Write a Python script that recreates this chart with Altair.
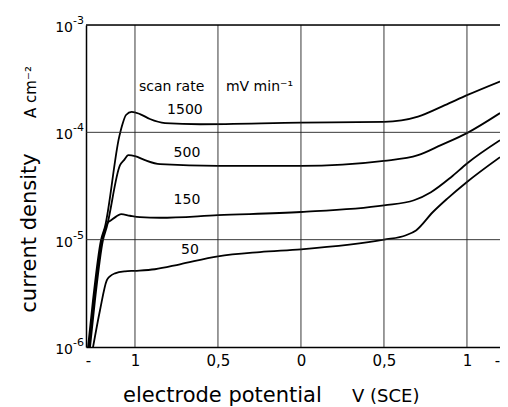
import altair as alt
import pandas as pd

FONT = "DejaVu Sans"

# ---- data (V vs SCE, current density A cm^-2) ----
v_1500 = [-1.283, -1.253, -1.205, -1.181, -1.095, -1.074, -1.054, -1.020, -0.970, -0.910,
          -0.819, -0.608, 0.0, 0.5, 0.705, 0.867, 1.0, 1.199]
j_1500 = [9.9e-7, 2.72e-6, 9.86e-6, 1.31e-5, 9.08e-5, 1.21e-4, 1.45e-4, 1.55e-4, 1.48e-4, 1.33e-4,
          1.22e-4, 1.19e-4, 1.23e-4, 1.25e-4, 1.40e-4, 1.79e-4, 2.22e-4, 2.98e-4]

v_500 = [-1.271, -1.241, -1.193, -1.170, -1.090, -1.066, -1.040, -1.0, -0.940, -0.849,
         -0.5, 0.0, 0.5, 0.705, 0.843, 1.0, 1.199]
j_500 = [9.9e-7, 2.72e-6, 9.86e-6, 1.31e-5, 4.94e-5, 5.51e-5, 6.12e-5, 6.0e-5, 5.51e-5, 5.05e-5,
         4.86e-5, 4.86e-5, 5.42e-5, 6.12e-5, 7.60e-5, 9.84e-5, 1.51e-4]

v_150 = [-1.277, -1.247, -1.199, -1.163, -1.151, -1.114, -1.084, -1.030, -0.970, -0.849,
         -0.5, 0.0, 0.5, 0.681, 0.783, 0.904, 1.0, 1.199]
j_150 = [9.9e-7, 2.72e-6, 9.86e-6, 1.45e-5, 1.49e-5, 1.64e-5, 1.73e-5, 1.67e-5, 1.62e-5, 1.60e-5,
         1.69e-5, 1.81e-5, 2.09e-5, 2.33e-5, 2.77e-5, 3.82e-5, 5.13e-5, 8.45e-5]

v_50 = [-1.253, -1.211, -1.170, -1.151, -1.120, -1.060, -1.0, -0.880, -0.729, -0.5,
        -0.247, 0.0, 0.5, 0.633, 0.693, 0.795, 0.880, 1.0, 1.199]
j_50 = [9.9e-7, 2.19e-6, 4.18e-6, 4.56e-6, 4.86e-6, 5.07e-6, 5.13e-6, 5.30e-6, 5.90e-6, 7.00e-6,
        7.67e-6, 8.13e-6, 1.0e-5, 1.10e-5, 1.22e-5, 1.81e-5, 2.40e-5, 3.45e-5, 5.87e-5]

series_names = ["1500", "500", "150", "50"]

# curve labels
label_text = ["1500", "500", "150", "50"]
label_v = [-0.699, -0.687, -0.687, -0.669]
label_j = [1.61e-4, 6.4e-5, 2.33e-5, 7.96e-6]

# header text
head_text = ["scan rate", "mV min\u207b\u00b9"]
head_v = [-0.976, -0.452]
head_j = [2.64e-4, 2.64e-4]

# axes
x_tick_values = [-1.283, -1.0, -0.5, 0.0, 0.5, 1.0, 1.18]
x_tick_labels = ["-", "1", "0,5", "0", "0,5", "1", "-"]
grid_x = [-1.0, -0.5, 0.0, 0.5, 1.0]
grid_y = [1e-5, 1e-4]
y_tick_values = [1e-6, 1e-5, 1e-4, 1e-3]
y_tick_exps = ["-6", "-5", "-4", "-3"]
x_title_parts = ["electrode potential", "V (SCE)"]
x_title_pos = [37, 266]
x_title_size = [21, 18]

# ---- build tables ----
rows = []
for name, vs, js in zip(series_names, [v_1500, v_500, v_150, v_50], [j_1500, j_500, j_150, j_50]):
    for i, (v, j) in enumerate(zip(vs, js)):
        rows.append({"series": name, "V": v, "j": j, "order": i})
df = pd.DataFrame(rows)

W, H = 414, 322
xscale = alt.Scale(domain=[-1.295, 1.199], nice=False, zero=False)
yscale = alt.Scale(type="log", domain=[1e-6, 1e-3], nice=False)

label_expr = " : ".join(
    f"datum.value == {v} ? '{t}'" for v, t in zip(x_tick_values, x_tick_labels)
) + " : ''"

xaxis = alt.Axis(
    values=x_tick_values, labelExpr=label_expr, grid=False, ticks=False,
    domainColor="black", domainWidth=1.5, labelFontSize=15, labelFont=FONT,
    labelColor="black", labelPadding=6, labelFlush=False, title=None)
yaxis = alt.Axis(labels=False, ticks=False, grid=False, domainColor="black",
                 domainWidth=1.5, title=None)

lines = alt.Chart(df).mark_line(
    color="black", strokeWidth=1.8, interpolate="monotone", clip=True
).encode(
    x=alt.X("V:Q", scale=xscale, axis=xaxis),
    y=alt.Y("j:Q", scale=yscale, axis=yaxis),
    detail="series:N",
    order="order:Q",
)

gx = alt.Chart(pd.DataFrame({"gx": grid_x})).mark_rule(color="#222", strokeWidth=0.9).encode(
    x=alt.X("gx:Q", scale=xscale, axis=xaxis)
)
gy = alt.Chart(pd.DataFrame({"gy": grid_y})).mark_rule(color="#222", strokeWidth=0.9).encode(
    y=alt.Y("gy:Q", scale=yscale, axis=yaxis)
)

top = alt.Chart(pd.DataFrame({"a": [0]})).mark_rule(color="black", strokeWidth=1.5).encode(
    x=alt.value(0), x2=alt.value(W), y=alt.value(0)
)

labels = alt.Chart(pd.DataFrame({"t": label_text, "v": label_v, "j": label_j})).mark_text(
    font=FONT, fontSize=14, color="black", align="center", baseline="middle"
).encode(
    x=alt.X("v:Q", scale=xscale, axis=xaxis),
    y=alt.Y("j:Q", scale=yscale, axis=yaxis),
    text="t:N",
)

head = alt.Chart(pd.DataFrame({"t": head_text, "v": head_v, "j": head_j})).mark_text(
    font=FONT, fontSize=14, color="black", align="left", baseline="middle"
).encode(
    x=alt.X("v:Q", scale=xscale, axis=xaxis),
    y=alt.Y("j:Q", scale=yscale, axis=yaxis),
    text="t:N",
)

ytick_df = pd.DataFrame({"j": y_tick_values, "e": y_tick_exps, "b": ["10"] * 4})
ybase = alt.Chart(ytick_df).mark_text(
    font=FONT, fontSize=14, color="black", align="right", baseline="middle", dy=3
).encode(
    x=alt.value(-13),
    y=alt.Y("j:Q", scale=yscale, axis=yaxis),
    text="b:N",
)
yexp = alt.Chart(ytick_df).mark_text(
    font=FONT, fontSize=11, color="black", align="left", baseline="middle", dy=-4
).encode(
    x=alt.value(-13),
    y=alt.Y("j:Q", scale=yscale, axis=yaxis),
    text="e:N",
)

ytitle = alt.Chart(pd.DataFrame({"t": ["current density"]})).mark_text(
    font=FONT, fontSize=21, color="black", angle=270, align="center", baseline="middle"
).encode(x=alt.value(-56), y=alt.value(208), text="t:N")

yunit = alt.Chart(pd.DataFrame({"t": ["A cm\u207b\u00b2"]})).mark_text(
    font=FONT, fontSize=15, color="black", angle=270, align="center", baseline="middle"
).encode(x=alt.value(-55), y=alt.value(67), text="t:N")

xtitle = alt.Chart(pd.DataFrame({"t": x_title_parts, "px": x_title_pos, "fs": x_title_size})).mark_text(
    font=FONT, color="black", align="left", baseline="alphabetic"
).encode(
    x=alt.X("px:Q", scale=None, axis=None),
    y=alt.value(377),
    size=alt.Size("fs:Q", scale=None, legend=None),
    text="t:N",
)

chart = alt.layer(lines, gx, gy, top, labels, head, ybase, yexp, ytitle, yunit, xtitle).properties(
    width=W, height=H,
    autosize=alt.AutoSizeParams(type="none"),
    padding={"left": 78, "top": 17, "right": 0, "bottom": 60},
).configure_view(stroke=None).configure(font=FONT)

chart.save("out.html", embed_options={"renderer": "svg", "actions": False})
